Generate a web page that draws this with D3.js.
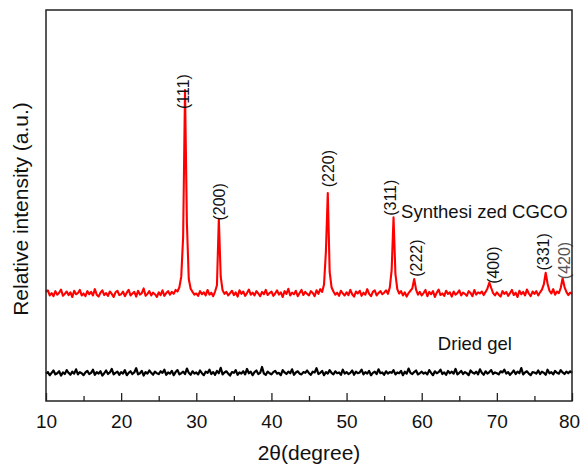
<!DOCTYPE html>
<html>
<head>
<meta charset="utf-8">
<script src="https://cdn.jsdelivr.net/npm/d3@7"></script>
<style>
  body { margin: 0; background: #fff; }
  text { font-family: Arial, "Liberation Sans", sans-serif; fill: #111; }
</style>
</head>
<body>
<div id="chart"></div>
<script>
const w = 580;
const h = 464;
const margin = {top: 10, right: 8, bottom: 63, left: 46};

// 2theta grid of the scans: 10 to 80 degree, one reading every 0.25 degree
const thetaStart = 10;
const thetaStep = 0.25;

// synthesized CGCO, counts (a.u.)
const synthesized = [
  279,283,270,276,268,281,272,277,285,269,274,280,271,278,266,282,273,276,284,270,
  275,268,281,273,279,270,286,272,267,277,283,271,276,269,280,274,266,278,282,271,
  273,280,268,277,284,270,275,279,267,282,272,276,288,269,274,281,270,277,273,266,
  278,271,283,269,276,281,272,279,274,284,280,291,318,420,795,455,312,287,279,272,
  275,269,281,273,278,270,284,272,277,268,280,296,466,318,283,274,279,270,276,282,
  271,278,267,283,274,280,269,276,285,272,277,270,281,275,268,279,273,284,271,276,
  280,269,275,283,272,278,266,281,274,287,270,277,273,282,268,276,284,271,279,274,
  270,281,276,268,283,274,286,279,298,382,532,330,291,280,272,277,269,282,275,270,
  278,271,284,273,267,280,275,282,269,277,272,286,274,268,279,283,270,276,281,273,
  277,283,274,290,335,470,325,286,275,281,270,278,267,276,282,288,312,285,272,279,
  270,276,284,268,279,273,281,266,277,285,271,275,269,282,274,278,267,280,272,276,
  283,270,277,274,269,281,276,268,284,272,278,275,280,271,279,288,303,289,276,270,
  278,272,267,281,274,279,269,276,284,271,277,266,282,273,279,270,285,275,268,280,
  274,281,270,278,285,298,328,300,282,275,286,272,280,276,289,314,292,279,271,277,
  274
];

// dried gel, counts (a.u.)
const driedGel = [
  70,74,66,72,78,68,71,76,65,73,69,79,72,67,75,70,81,68,74,71,
  66,73,77,69,72,80,67,74,70,76,65,71,78,69,73,82,68,72,75,67,
  74,70,79,66,72,76,69,73,84,68,71,77,65,74,70,78,72,67,75,71,
  69,76,72,80,67,73,70,77,66,74,79,68,71,75,69,83,72,67,76,70,
  73,68,78,71,66,75,72,80,69,74,67,77,71,85,68,73,76,70,65,74,
  72,79,67,73,70,76,68,82,71,75,66,74,78,69,72,87,70,67,75,71,
  68,74,77,70,72,66,79,73,69,75,71,81,67,73,76,70,68,74,72,78,
  71,67,75,73,84,69,72,77,66,74,70,79,72,68,76,71,73,67,80,70,
  74,69,72,78,67,75,71,73,80,68,74,70,77,66,72,75,69,81,71,73,
  67,76,70,74,72,79,68,73,71,77,66,75,70,83,72,69,74,78,68,71,
  75,70,73,68,79,72,66,76,71,74,80,69,73,67,77,71,75,70,82,68,
  72,77,69,74,71,66,78,73,70,75,68,81,72,67,76,70,74,79,69,73,
  71,68,76,73,80,70,74,67,72,78,69,75,71,84,68,73,76,70,66,74,
  73,70,78,69,75,72,67,80,71,74,68,77,72,70,79,73,69,75,71,76,
  72
];

// peak indexing
const hkl = ["(111)", "(200)", "(220)", "(311)", "(222)", "(400)", "(331)", "(420)"];
const hklTheta = [28.3, 33.15, 47.55, 55.8, 59.3, 69.5, 76.2, 79.05];
const hklLevel = [744, 459, 544, 471, 315, 297, 331, 309];

const xTicks = [10, 20, 30, 40, 50, 60, 70, 80];
const xMinorTicks = [15, 25, 35, 45, 55, 65, 75];

const svg = d3.select('#chart')
  .append('svg')
  .attr('width', w)
  .attr('height', h);

let xScale = d3.scaleLinear()
  .domain([10, 80])
  .range([margin.left, w - margin.right]);

let yScale = d3.scaleLinear()
  .domain([0, 1000])
  .range([h - margin.bottom, margin.top]);

let line = d3.line()
  .x(function(d, i) { return xScale(thetaStart + i * thetaStep); })
  .y(function(d) { return yScale(d); });

svg.append('path')
  .datum(driedGel)
  .attr('d', line)
  .attr('fill', 'none')
  .attr('stroke', '#000')
  .attr('stroke-width', 2.2)
  .attr('stroke-linejoin', 'round');

svg.append('path')
  .datum(synthesized)
  .attr('d', line)
  .attr('fill', 'none')
  .attr('stroke', '#ff0000')
  .attr('stroke-width', 2.1)
  .attr('stroke-linejoin', 'round');

// hkl labels, rotated
svg.selectAll('text.hkl')
  .data(hkl)
  .enter()
  .append('text')
  .attr('class', 'hkl')
  .text(function(d) { return d; })
  .attr('transform', function(d, i) {
    return 'translate(' + (xScale(hklTheta[i]) + 5.5) + ',' + (yScale(hklLevel[i]) - 1) + ') rotate(-90)';
  })
  .attr('font-size', '16px')
  .style('fill', function(d) { return d === '(420)' ? '#555' : '#111'; });

svg.append('text')
  .text('Synthesi zed CGCO')
  .attr('x', xScale(57.25))
  .attr('y', yScale(468))
  .attr('font-size', '18.5px');

svg.append('text')
  .text('Dried gel')
  .attr('x', xScale(62.15))
  .attr('y', yScale(130))
  .attr('font-size', '18.5px');

// axes
let xAxis = d3.axisBottom()
  .scale(xScale)
  .tickValues(xTicks)
  .tickSize(-8)
  .tickPadding(13.5)
  .tickFormat(d3.format('d'));

let xMinor = d3.axisBottom()
  .scale(xScale)
  .tickValues(xMinorTicks)
  .tickSize(-5)
  .tickFormat('');

let gx = svg.append('g')
  .attr('transform', 'translate(0,' + (h - margin.bottom) + ')')
  .call(xAxis);
gx.selectAll('text')
  .attr('font-size', '19px')
  .attr('font-family', 'Arial, "Liberation Sans", sans-serif')
  .style('fill', '#111');
// last label sits against the page edge
gx.selectAll('text')
  .filter(function(d) { return d === 80; })
  .attr('x', -3);

let gm = svg.append('g')
  .attr('transform', 'translate(0,' + (h - margin.bottom) + ')')
  .call(xMinor);

svg.selectAll('.domain').remove();
svg.selectAll('.tick line').attr('stroke', '#222').attr('stroke-width', 1.3);

svg.append('rect')
  .attr('x', margin.left)
  .attr('y', margin.top)
  .attr('width', w - margin.left - margin.right)
  .attr('height', h - margin.top - margin.bottom)
  .attr('fill', 'none')
  .attr('stroke', '#222')
  .attr('stroke-width', 1.5);

svg.append('text')
  .text('2θ(degree)')
  .attr('x', (margin.left + w - margin.right) / 2)
  .attr('y', 460)
  .attr('text-anchor', 'middle')
  .attr('font-size', '21px');

svg.append('text')
  .text('Relative intensity (a.u.)')
  .attr('transform', 'translate(28,209) rotate(-90)')
  .attr('text-anchor', 'middle')
  .attr('font-size', '21px');
</script>
</body>
</html>
